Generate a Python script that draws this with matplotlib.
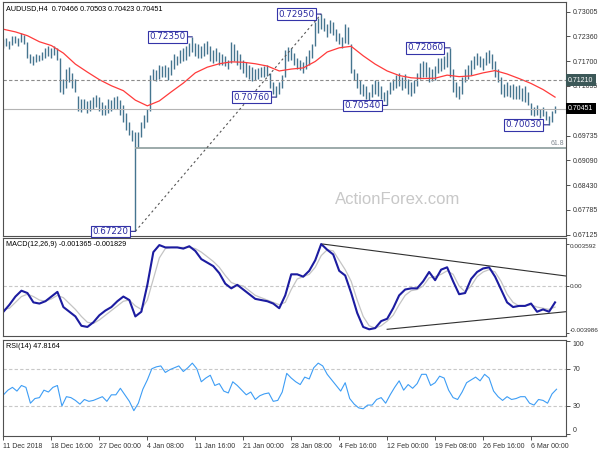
import numpy as np
import matplotlib
matplotlib.use("Agg")
from matplotlib import pyplot as plt
from matplotlib import transforms

# AUDUSD H4, one value every 2nd H4 bar, prices in pips (x 0.0001)
bar_high = [7228, 7232, 7225, 7236, 7238, 7233, 7246, 7240, 7222, 7190,
            7185, 7190, 7188, 7196, 7205, 7210, 7206, 7212, 7205, 7180,
            7125, 7150, 7155, 7140, 7125, 7080, 7070, 7072, 7065, 7068,
            7075, 7082, 7075, 7062, 7055, 7070, 7068, 7075, 7080, 7068,
            7055, 7035, 7010, 6990, 6985, 6985, 7010, 7030, 7045, 7135,
            7150, 7148, 7160, 7158, 7162, 7155, 7175, 7190, 7185, 7200,
            7205, 7210, 7220, 7235, 7220, 7215, 7212, 7218, 7224, 7212,
            7200, 7205, 7195, 7190, 7185, 7175, 7222, 7215, 7200, 7190,
            7175, 7168, 7160, 7155, 7150, 7152, 7155, 7158, 7160, 7140,
            7115, 7105, 7115, 7135, 7200, 7208, 7206, 7192, 7180, 7175,
            7168, 7185, 7200, 7215, 7275, 7285, 7295, 7285, 7270, 7280,
            7275, 7255, 7245, 7235, 7268, 7262, 7215, 7150, 7140, 7120,
            7110, 7105, 7090, 7110, 7120, 7118, 7105, 7090, 7095, 7115,
            7125, 7135, 7140, 7130, 7138, 7125, 7115, 7120, 7140, 7165,
            7170, 7168, 7155, 7150, 7158, 7180, 7178, 7185, 7195, 7206,
            7150, 7115, 7105, 7130, 7150, 7160, 7175, 7185, 7192, 7185,
            7178, 7195, 7200, 7190, 7170, 7150, 7130, 7110, 7115, 7108,
            7110, 7105, 7108, 7100, 7105, 7090, 7060, 7050, 7055, 7045,
            7050, 7040, 7025, 7040, 7052]
bar_low = [7205, 7212, 7203, 7214, 7218, 7212, 7222, 7215, 7178, 7165,
           7160, 7168, 7170, 7175, 7178, 7185, 7180, 7188, 7175, 7090,
           7085, 7100, 7115, 7100, 7090, 7040, 7038, 7045, 7035, 7040,
           7045, 7050, 7040, 7030, 7028, 7035, 7040, 7045, 7045, 7030,
           7010, 6990, 6975, 6960, 6722, 6945, 6970, 6995, 7010, 7040,
           7120, 7118, 7125, 7130, 7128, 7120, 7135, 7150, 7160, 7165,
           7170, 7175, 7185, 7195, 7185, 7180, 7178, 7185, 7190, 7172,
           7165, 7170, 7160, 7162, 7158, 7150, 7165, 7170, 7160, 7150,
           7140, 7130, 7125, 7118, 7120, 7125, 7130, 7128, 7132, 7100,
           7085, 7076, 7085, 7100, 7130, 7170, 7175, 7160, 7150, 7148,
           7140, 7150, 7160, 7180, 7210, 7245, 7255, 7250, 7235, 7245,
           7240, 7225, 7215, 7205, 7220, 7215, 7140, 7120, 7100, 7085,
           7080, 7070, 7062, 7075, 7085, 7080, 7070, 7065, 7054, 7085,
           7095, 7100, 7105, 7095, 7100, 7085, 7078, 7088, 7105, 7125,
           7130, 7128, 7115, 7118, 7120, 7140, 7145, 7150, 7155, 7130,
           7090, 7075, 7070, 7085, 7115, 7125, 7135, 7150, 7160, 7155,
           7148, 7160, 7165, 7150, 7130, 7115, 7085, 7075, 7080, 7075,
           7072, 7070, 7072, 7065, 7062, 7055, 7030, 7025, 7028, 7020,
           7025, 7015, 7003, 7010, 7035]

# moving average, every 8th H4 bar
ma_line = [7255, 7248, 7238, 7222, 7212, 7192, 7163, 7142, 7122, 7106,
           7093, 7068, 7053, 7066, 7090, 7113, 7140, 7155, 7164, 7169,
           7168, 7164, 7158, 7145, 7150, 7153, 7170, 7195, 7206, 7210,
           7185, 7163, 7145, 7133, 7127, 7125, 7126, 7134, 7130, 7132,
           7140, 7146, 7137, 7125, 7112, 7096, 7076]

# MACD(12,26,9), every 4th H4 bar
macd_main = [-0.0022, -0.0016, -0.0009, -0.0004, -0.0006, -0.0014, -0.0015, -0.0013, -0.0009, -0.0005,
             -0.0018, -0.0022, -0.0026, -0.0034, -0.0035, -0.0031, -0.0025, -0.0021, -0.0018, -0.0013,
             -0.0009, -0.0012, -0.0026, -0.0022, 0.0001, 0.0029, 0.0035, 0.0033, 0.0033, 0.0033,
             0.0032, 0.0034, 0.0030, 0.0023, 0.0020, 0.0017, 0.0011, 0.0002, -0.0002, 0.0001,
             -0.0003, -0.0007, -0.0011, -0.0012, -0.0013, -0.0015, -0.0019, -0.0008, 0.0010, 0.0010,
             0.0008, 0.0013, 0.0022, 0.00359, 0.0031, 0.0027, 0.0013, 0.0009, -0.0006, -0.0023,
             -0.0035, -0.0037, -0.0036, -0.0030, -0.0028, -0.0019, -0.0008, -0.0003, -0.0002, -0.0002,
             0.0004, 0.0012, 0.0005, 0.0014, 0.0016, 0.0004, -0.0007, -0.0006, 0.0006, 0.0012,
             0.0015, 0.0016, 0.0008, -0.0003, -0.0014, -0.0018, -0.0017, -0.0017, -0.0015, -0.0022,
             -0.0020, -0.0022, -0.0014]
macd_signal = [-0.0020, -0.0019, -0.0014, -0.0009, -0.0007, -0.0009, -0.0012, -0.0013, -0.0011, -0.0008,
               -0.0010, -0.0015, -0.0020, -0.0026, -0.0031, -0.0032, -0.0029, -0.0025, -0.0021, -0.0017,
               -0.0013, -0.0012, -0.0017, -0.0020, -0.0012, 0.0006, 0.0024, 0.0032, 0.0033, 0.0033,
               0.0033, 0.0033, 0.0032, 0.0029, 0.0025, 0.0021, 0.0016, 0.0009, 0.0003, 0.0001,
               0.0000, -0.0004, -0.0008, -0.0010, -0.0012, -0.0014, -0.0016, -0.0014, -0.0003, 0.0006,
               0.0008, 0.0010, 0.0016, 0.0026, 0.0031, 0.0030, 0.0022, 0.0014, 0.0004, -0.0012,
               -0.0026, -0.0034, -0.0036, -0.0034, -0.0030, -0.0025, -0.0016, -0.0008, -0.0004, -0.0003,
               0.0000, 0.0007, 0.0008, 0.0010, 0.0013, 0.0010, 0.0000, -0.0005, 0.0000, 0.0008,
               0.0012, 0.0014, 0.0012, 0.0004, -0.0007, -0.0014, -0.0017, -0.0017, -0.0016, -0.0018,
               -0.0019, -0.0020, -0.0018]

# RSI(14), every 3rd H4 bar
rsi_vals = [42, 47, 50, 46, 52, 50, 33, 38, 39, 47,
            45, 50, 52, 30, 40, 39, 36, 32, 37, 35,
            36, 38, 40, 35, 42, 42, 49, 42, 35, 25,
            33, 48, 58, 70, 72, 73, 66, 69, 71, 73,
            67, 71, 76, 70, 56, 60, 63, 52, 54, 46,
            44, 56, 52, 47, 42, 45, 37, 41, 43, 44,
            35, 36, 45, 65, 60, 56, 53, 61, 59, 71,
            76, 73, 64, 58, 52, 46, 55, 38, 32, 28,
            27, 31, 31, 37, 39, 33, 42, 50, 57, 47,
            53, 49, 54, 64, 64, 52, 55, 62, 60, 47,
            39, 37, 45, 55, 58, 61, 57, 64, 60, 46,
            40, 36, 40, 37, 38, 40, 40, 33, 31, 37,
            36, 33, 43, 48]

x_labels = ["11 Dec 2018", "18 Dec 16:00", "27 Dec 00:00", "4 Jan 08:00", "11 Jan 16:00",
            "21 Jan 00:00", "28 Jan 08:00", "4 Feb 16:00", "12 Feb 00:00", "19 Feb 08:00",
            "26 Feb 16:00", "6 Mar 00:00"]
price_ticks = [0.73005, 0.72360, 0.71700, 0.71055, 0.69735, 0.69090, 0.68430, 0.67785, 0.67125]

# swing labels: index into bar list, price
mark_bars = [63, 106, 91, 44, 128, 149, 182]
mark_prices = [0.72350, 0.72950, 0.70760, 0.67220, 0.70540, 0.72060, 0.70030]

level_dashed = 0.71210
last_price = 0.70451
fib_618 = 0.6941
swing_low_bar, swing_high_bar = 44, 106

macd_upper = ([213, 375], [0.00359, 0.00086])
macd_lower = ([256, 375], [-0.0037, -0.0022])

plt.rcParams['font.family'] = ['Liberation Sans', 'DejaVu Sans']
plt.rcParams['font.size'] = 5

fig = plt.figure(figsize=(6, 4.5), dpi=100)
ax = fig.add_axes([0.005, 0.4756, 0.9383, 0.52])
ax2 = fig.add_axes([0.005, 0.2533, 0.9383, 0.2178], sharex=ax)
ax3 = fig.add_axes([0.005, 0.0311, 0.9383, 0.2133], sharex=ax)

bx = np.arange(len(bar_high)) * 2
hi = np.array(bar_high) / 10000
lo = np.array(bar_low) / 10000

bar_col = '#45758f'
ax.vlines(bx, lo, hi, color=bar_col, lw=1.0)
ax.plot(np.arange(len(ma_line)) * 8, np.array(ma_line) / 10000, color='#ff3b3b', lw=0.9)

ax.axhline(level_dashed, color='#8c8c8c', lw=0.8, ls=(0, (3, 2)))
ax.axhline(last_price, color='#b4b4b4', lw=0.8)
ax.hlines(fib_618, bx[swing_low_bar], 380, color='#94a4a4', lw=1.3)
ax.text(374, fib_618 + 0.0004, "61.8", color='#808890', fontsize=5, ha='right', va='bottom')
ax.plot([bx[swing_low_bar], bx[swing_high_bar]], [lo[swing_low_bar], hi[swing_high_bar]],
        color='#555555', lw=0.8, ls=(0, (2, 2.5)))

for b, p in zip(mark_bars, mark_prices):
    ax.annotate(f"{p:.5f}", xy=(bx[b], p), xytext=(-5, 0), textcoords='offset points',
                ha='right', va='center', fontsize=6.3, color='#2a2aa0', family='DejaVu Sans',
                bbox=dict(boxstyle='square,pad=0.15', fc='white', ec='#3434a8', lw=0.8),
                arrowprops=dict(arrowstyle='-', color='#2a2a90', lw=0.8, shrinkA=0, shrinkB=0))

ax.set_ylim(0.67098, 0.73269)
ax.set_xlim(-0.3, 375.3)
ax.yaxis.tick_right()
ax.set_yticks(price_ticks)
ax.set_yticklabels([f"{t:.5f}" for t in price_ticks])

tr = transforms.blended_transform_factory(ax.transAxes, ax.transData)
ax.text(1.004, level_dashed, f"{level_dashed:.5f}", transform=tr, color='white', fontsize=5,
        va='center', ha='left', bbox=dict(boxstyle='square,pad=0.3', fc='#3c5858', ec='none'))
ax.text(1.004, last_price, f"{last_price:.5f}", transform=tr, color='white', fontsize=5,
        va='center', ha='left', bbox=dict(boxstyle='square,pad=0.3', fc='black', ec='none'))

ax.text(0.006, 0.985, "AUDUSD,H4  0.70466 0.70503 0.70423 0.70451", transform=ax.transAxes,
        va='top', ha='left', fontsize=5.2)
fig.text(398 / 600, 1 - 199 / 450, "ActionForex.com", color='#c8c8c8', fontsize=12,
         ha='center', va='center')

# MACD
mx = np.arange(len(macd_main)) * 4
ax2.axhline(0, color='#c8c8c8', lw=0.8, ls=(0, (3, 2)))
ax2.plot(mx, macd_signal, color='#c4c4c4', lw=0.9)
ax2.plot(mx, macd_main, color='#1c1ca0', lw=1.5)
ax2.plot(macd_upper[0], macd_upper[1], color='#303030', lw=0.8)
ax2.plot(macd_lower[0], macd_lower[1], color='#303030', lw=0.8)
ax2.set_ylim(-0.004275, 0.004105)
ax2.yaxis.tick_right()
ax2.set_yticks([0.003592, 0.0, -0.003986])
ax2.set_yticklabels(["0.003592", "0.00", "-0.003986"])
ax2.text(0.006, 0.97, "MACD(12,26,9) -0.001365 -0.001829", transform=ax2.transAxes,
         va='top', ha='left', fontsize=5.2)

# RSI
rx = np.arange(len(rsi_vals)) * 3
ax3.axhline(70, color='#c8c8c8', lw=0.8, ls=(0, (3, 2)))
ax3.axhline(30, color='#c8c8c8', lw=0.8, ls=(0, (3, 2)))
ax3.plot(rx, rsi_vals, color='#3d9df5', lw=0.8)
ax3.set_ylim(-2.2, 100.8)
ax3.yaxis.tick_right()
ax3.set_yticks([100, 70, 30, 0])
ax3.set_yticklabels(["100", "70", "30", "0"])
ylabs = ax3.get_yticklabels()
ylabs[0].set_va('top')
ylabs[3].set_va('bottom')
ax3.text(0.006, 0.97, "RSI(14) 47.8164", transform=ax3.transAxes, va='top', ha='left', fontsize=5.2)

ax3.set_xticks(np.arange(len(x_labels)) * 32)
ax3.set_xticklabels(x_labels, ha='left')

for a in (ax, ax2, ax3):
    for s in a.spines.values():
        s.set_color('#505050')
        s.set_linewidth(0.8)
    a.tick_params(axis='y', which='both', length=3, width=0.6, pad=2, colors='#333333', labelsize=5)
    a.tick_params(axis='x', length=3, width=0.6, pad=2, colors='#333333', labelsize=5)
ax2.tick_params(axis='y', length=2, pad=0.8, labelsize=4.6)
ylabs2 = ax2.get_yticklabels()
ylabs2[0].set_va('top')
ylabs2[2].set_va('bottom')
ax.tick_params(axis='x', labelbottom=False)
ax2.tick_params(axis='x', labelbottom=False, length=0)
ax.tick_params(axis='x', length=0)

fig.savefig("out.png", dpi=100)
